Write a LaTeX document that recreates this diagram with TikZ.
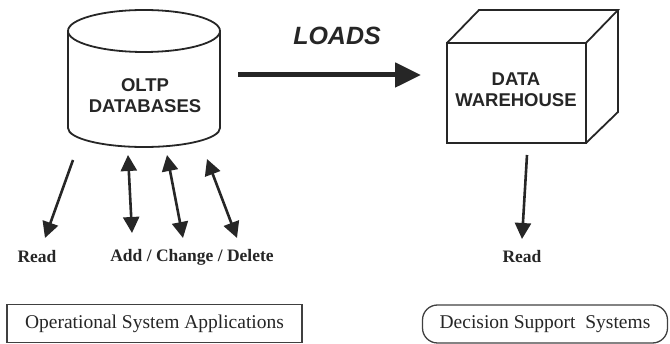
\documentclass[tikz,border=0pt]{standalone}
\usepackage{fontspec}
\setmainfont{Liberation Serif}
\newfontfamily\arialfont{Liberation Sans}
\usetikzlibrary{arrows.meta}
\begin{document}
\begin{tikzpicture}[x=1pt,y=1pt,
  ink/.style={draw=black!85, line width=1.8pt},
  boxline/.style={draw=black!75, line width=1.3pt},
  headtxt/.style={font=\arialfont\bfseries\fontsize{18.5}{21}\selectfont, text=black!85, align=center},
  labtxt/.style={font=\bfseries\fontsize{17.5}{19}\selectfont, text=black!85},
  boxtxt/.style={font=\fontsize{19.5}{21}\selectfont, text=black!85},
  onearrow/.style={line width=2.6pt, draw=black!85, -{Triangle[length=16pt,width=16pt]}},
  twoarrow/.style={line width=2.6pt, draw=black!85, {Triangle[length=16pt,width=16pt]}-{Triangle[length=16pt,width=16pt]}},
  bigarrow/.style={line width=5pt, draw=black!85, -{Triangle[length=26pt,width=24pt]}}]
\useasboundingbox (0,0) rectangle (670,-344);
% cylinder
\draw[ink] (144,-31) ellipse [x radius=76, y radius=21];
\draw[ink] (68,-31) -- (68,-128) arc[start angle=180, end angle=360, x radius=76, y radius=19] -- (220,-31);
\node[headtxt] (db) at (145,-96) {OLTP\\DATABASES};
% cube
\draw[ink] (447,-43) rectangle (586,-143);
\draw[ink] (447,-43) -- (479,-10) -- (618,-10) -- (586,-43);
\draw[ink] (618,-10) -- (618,-112) -- (586,-143);
\node[headtxt] (dw) at (516,-90) {DATA\\WAREHOUSE};
% loads
\node[font=\arialfont\bfseries\itshape\fontsize{25}{28}\selectfont, text=black!85] (loads) at (337,-36) {LOADS};
\coordinate (ls) at (238,-75);
\coordinate (le) at (421,-75);
\draw[bigarrow] (ls) -- (le);
% arrows below database
\coordinate (r1s) at (73,-160);  \coordinate (r1e) at (45,-238);
\coordinate (a1s) at (128,-155); \coordinate (a1e) at (132,-233);
\coordinate (a2s) at (167,-155); \coordinate (a2e) at (183,-238);
\coordinate (a3s) at (207,-159); \coordinate (a3e) at (237,-238);
\draw[onearrow] (r1s) -- (r1e);
\draw[twoarrow] (a1s) -- (a1e);
\draw[twoarrow] (a2s) -- (a2e);
\draw[twoarrow] (a3s) -- (a3e);
% arrow below warehouse
\coordinate (r2s) at (527,-155); \coordinate (r2e) at (522,-239);
\draw[onearrow] (r2s) -- (r2e);
% labels
\node[labtxt] (read1) at (37,-257) {Read};
\node[labtxt] (acd) at (192,-257) {Add / Change / Delete};
\node[labtxt] (read2) at (522,-257) {Read};
% boxes
\node[boxline, boxtxt, minimum width=295pt, minimum height=38pt, inner sep=0pt] (osa) at (154.5,-323.5) {Operational System Applications};
\node[boxline, boxtxt, rounded corners=15pt, minimum width=245pt, minimum height=38pt, inner sep=0pt] (dss) at (545,-324) {Decision Support\ \ Systems};
\end{tikzpicture}
\end{document}
